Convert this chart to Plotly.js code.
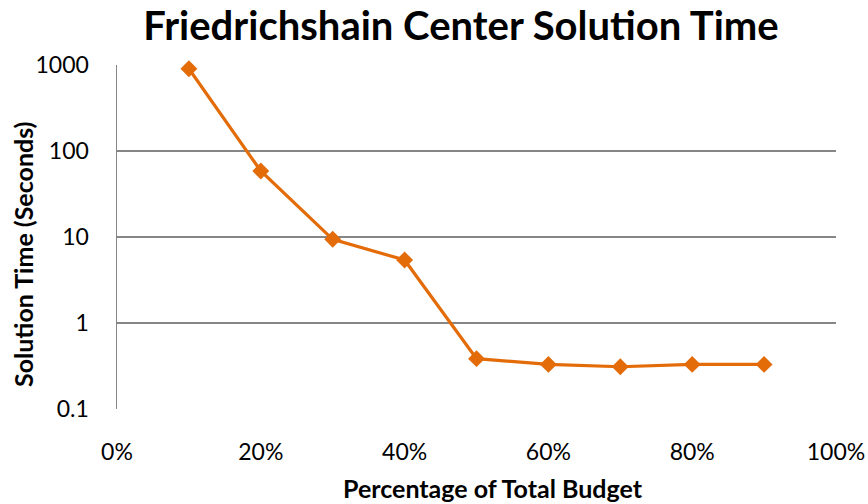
<!DOCTYPE html>
<html><head><meta charset="utf-8">
<script src="https://cdn.plot.ly/plotly-3.0.1.min.js"></script>
<style>html,body{margin:0;padding:0;background:#fff}#chart{width:868px;height:504px}</style>
</head><body><div id="chart"></div>
<script>
const budgetShare = [0.1, 0.2, 0.3, 0.4, 0.5, 0.6, 0.7, 0.8, 0.9];
const solutionTime = [905, 58.5, 9.4, 5.4, 0.385, 0.33, 0.31, 0.33, 0.33];
const yTickVals = [0.1, 1, 10, 100, 1000];
const yTickText = ['0.1', '1', '10', '100', '1000'];
const xTickVals = [0, 0.2, 0.4, 0.6, 0.8, 1.0];
const xTickText = ['0%', '20%', '40%', '60%', '80%', '100%'];

const FONT = "Lato, 'Open Sans', sans-serif";
const data = [{
  x: budgetShare, y: solutionTime, type: 'scatter', mode: 'lines+markers',
  line: {color: '#E36C09', width: 3.2},
  marker: {symbol: 'diamond', size: 13, color: '#E36C09'},
  hoverinfo: 'skip', cliponaxis: false
}];
const layout = {
  width: 868, height: 504,
  margin: {l: 117, r: 32, t: 65, b: 95},
  paper_bgcolor: '#fff', plot_bgcolor: '#fff',
  showlegend: false,
  font: {family: FONT, color: '#000', size: 23},
  title: {text: '<b>Friedrichshain Center Solution Time</b>', font: {family: FONT, size: 40, color: '#000'},
          x: 0.531, xanchor: 'center', y: 0.948, yanchor: 'middle'},
  xaxis: {range: [0, 1], tickvals: xTickVals, ticktext: xTickText, showgrid: false, zeroline: false,
          showline: false, ticks: '', ticklen: 0, tickfont: {size: 23}, ticklabelstandoff: 27},
  yaxis: {type: 'log', range: [-1, 3], tickvals: yTickVals, ticktext: yTickText,
          showgrid: true, gridcolor: '#868686', gridwidth: 1.5, zeroline: false,
          showline: true, linecolor: '#868686', linewidth: 1.5, ticks: '', tickfont: {size: 23},
          ticklabelstandoff: 22},
  annotations: [
    {text: '<b>Percentage of Total Budget</b>', xref: 'paper', yref: 'paper',
     x: (493 - 117) / 719, y: -(488 - 409) / 344, xanchor: 'center', yanchor: 'middle',
     showarrow: false, font: {size: 25}},
    {text: '<b>Solution Time (Seconds)</b>', xref: 'paper', yref: 'paper', textangle: -90,
     x: -(117 - 23) / 719, y: (409 - 255) / 344, xanchor: 'center', yanchor: 'middle',
     showarrow: false, font: {size: 25}}
  ]
};
Plotly.newPlot('chart', data, layout, {displayModeBar: false, staticPlot: true});
</script></body></html>
